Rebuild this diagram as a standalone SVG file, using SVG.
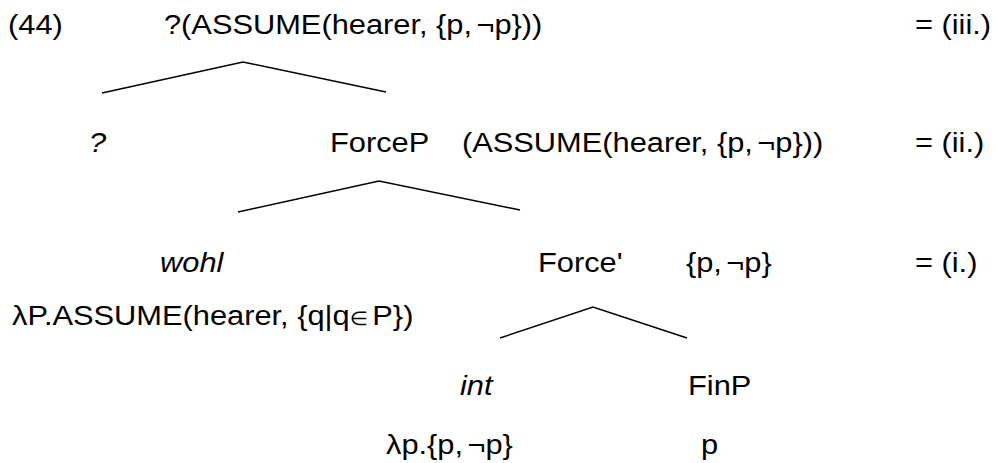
<svg xmlns="http://www.w3.org/2000/svg" width="996" height="463" viewBox="0 0 996 463">
<style>
text{font-family:"Liberation Sans",Arial,"DejaVu Sans",sans-serif;font-size:28px;fill:#000}
.it{font-style:italic}
.sym{font-family:"DejaVu Sans",sans-serif;font-size:19px}
.edge{stroke:#000;stroke-width:1.5;fill:none}
</style>
<rect width="996" height="463" fill="#fff"/>
<g id="edges">
<polyline class="edge" points="102,93 243,62 386,92"/>
<polyline class="edge" points="238,212 379,181 520,210"/>
<polyline class="edge" points="500,338 593,307 687,338"/>
</g>
<g id="ex-number" transform="scale(1.1 1)"><text x="7.3" y="34">(44)</text></g>
<g id="root" transform="scale(1.1 1)"><text x="149.1" y="34">?(ASSUME(hearer, {p,<tspan dx="4">¬</tspan>p}))</text><text x="831.8" y="34">= (iii.)</text></g>
<g id="q" transform="scale(1.1 1)"><text class="it" x="80.9" y="152">?</text></g>
<g id="forceP" transform="scale(1.1 1)"><text x="300" y="152">ForceP</text><text x="420" y="152">(ASSUME(hearer, {p,<tspan dx="4">¬</tspan>p}))</text><text x="831.8" y="152">= (ii.)</text></g>
<g id="wohl" transform="scale(1.1 1)"><text class="it" x="145.5" y="272">wohl</text><text x="10.9" y="325">λP.ASSUME(hearer, {q|q<tspan class="sym">∈</tspan><tspan dx="4">P})</tspan></text></g>
<g id="forceBar" transform="scale(1.1 1)"><text x="489.1" y="272">Force'</text><text x="623.6" y="272">{p,<tspan dx="4">¬</tspan>p}</text><text x="831.8" y="272">= (i.)</text></g>
<g id="int" transform="scale(1.1 1)"><text class="it" x="418.2" y="395">int</text><text x="350.9" y="454">λp.{p,<tspan dx="4">¬</tspan>p}</text></g>
<g id="finP" transform="scale(1.1 1)"><text x="625.5" y="395">FinP</text><text x="637.3" y="454">p</text></g>
</svg>
